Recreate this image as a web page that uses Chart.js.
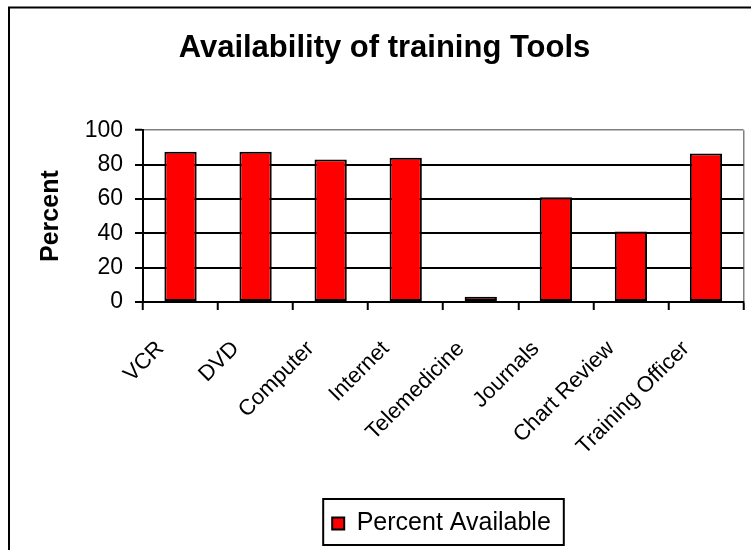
<!DOCTYPE html>
<html>
<head>
<meta charset="utf-8">
<script src="https://cdn.jsdelivr.net/npm/chart.js@4"></script>
<style>
    html, body { margin: 0; padding: 0; background: #fff; }
    #wrap { width: 751px; height: 550px; }
</style>
</head>
<body>
<div id="wrap"><canvas id="toolsChart" width="751" height="550"></canvas></div>
<script>
const categories = [
    "VCR", "DVD", "Computer", "Internet",
    "Telemedicine", "Journals", "Chart Review", "Training Officer"
];
const percentAvailable = [87.5, 87.5, 83, 84, 3, 61, 41, 86.5];
const yTicks = [0, 20, 40, 60, 80, 100];

const FONT = "'Liberation Sans', Arial, sans-serif";

// outer frame (only top/left edges show) + box round the legend
const framePlugin = {
    id: 'frame',
    afterLayout(chart) {
        // legend sits right of centre in the original
        chart.legend.left += 57;
        chart.legend.right += 57;
        chart.legend.legendHitBoxes.forEach(b => b.left += 57);
    },
    afterDraw(chart) {
        const c = chart.ctx;
        c.save();
        c.strokeStyle = '#000';
        c.lineWidth = 2;
        c.beginPath();
        c.moveTo(9, 551);
        c.lineTo(9, 7.5);
        c.lineTo(752, 7.5);
        c.stroke();

        const hb = chart.legend.legendHitBoxes[0];
        if (hb) {
            c.strokeRect(hb.left - 9, hb.top - 12, hb.width + 22, hb.height + 21);
        }
        c.restore();
    }
};

const ctx = document.getElementById('toolsChart');

new Chart(ctx, {
    type: 'bar',
    data: {
        labels: categories,
        datasets: [{
            label: 'Percent Available',
            data: percentAvailable,
            backgroundColor: '#ff0000',
            borderColor: '#000000',
            borderWidth: 2,
            borderSkipped: false,
            barPercentage: 0.43,
            categoryPercentage: 1
        }]
    },
    options: {
        responsive: false,
        animation: false,
        layout: {
            padding: {left: 24, right: 6, top: 0, bottom: 4}
        },
        plugins: {
            title: {
                display: true,
                text: 'Availability of training Tools',
                color: '#000',
                font: {family: FONT, size: 31, weight: 'bold'},
                padding: {top: 30, bottom: 63}
            },
            legend: {
                position: 'bottom',
                labels: {
                    color: '#000',
                    font: {family: FONT, size: 25},
                    boxWidth: 12,
                    boxHeight: 12,
                    padding: 10
                }
            },
            tooltip: {enabled: false}
        },
        scales: {
            x: {
                offset: true,
                grid: {
                    offset: true,
                    drawOnChartArea: true,
                    // only the closing line on the right is shown, in grey
                    color: c => c.index === undefined ? '#808080' : 'rgba(0,0,0,0)',
                    lineWidth: 1.5,
                    tickColor: '#000',
                    tickWidth: 2,
                    tickLength: 8
                },
                border: {color: '#000', width: 2},
                ticks: {
                    color: '#000',
                    font: {family: FONT, size: 22},
                    maxRotation: 45,
                    minRotation: 45,
                    autoSkip: false,
                    padding: 26,
                    labelOffset: -20
                },
                afterFit(scale) {
                    scale.height = 199;
                }
            },
            y: {
                min: 0,
                max: 100,
                afterBuildTicks(scale) {
                    scale.ticks = yTicks.map(v => ({value: v}));
                },
                grid: {
                    color: c => c.tick && c.tick.value === 100 ? '#808080' : '#000',
                    lineWidth: c => c.tick && c.tick.value === 100 ? 1.5 : 2,
                    tickColor: '#000',
                    tickWidth: 2,
                    tickLength: 8
                },
                border: {color: '#000', width: 2},
                ticks: {
                    color: '#000',
                    font: {family: FONT, size: 23},
                    padding: 12
                },
                title: {
                    display: true,
                    text: 'Percent',
                    color: '#000',
                    font: {family: FONT, size: 25, weight: 'bold'},
                    padding: {top: 12, bottom: 0}
                },
                afterFit(scale) {
                    scale.width = 119;
                }
            }
        }
    },
    plugins: [framePlugin]
});
</script>
</body>
</html>
